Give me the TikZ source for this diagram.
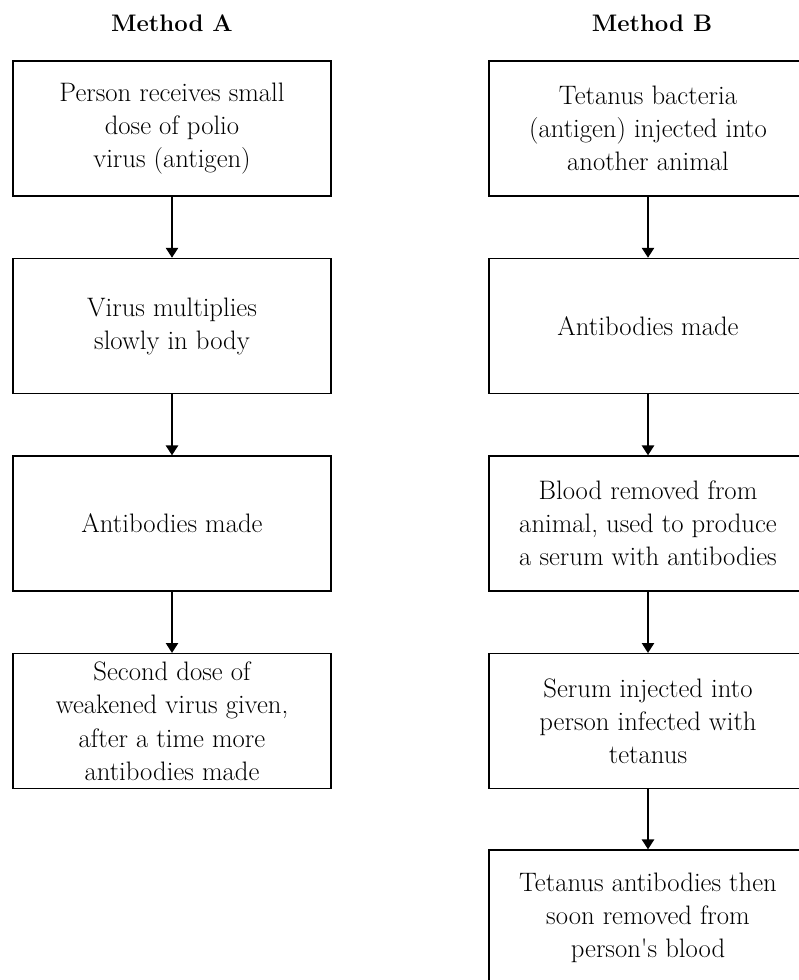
\documentclass[tikz,border=0pt]{standalone}
\usetikzlibrary{positioning,arrows.meta}

\begin{document}
\begin{tikzpicture}[
    stage/.style={draw, line width=1pt, minimum width=7.95cm, minimum height=3.375cm,
      inner sep=0pt, align=center, font=\fontsize{19}{23.5}\selectfont},
    heading/.style={font=\fontsize{17}{20}\selectfont\bfseries},
    flow/.style={-{Triangle[width=0.3cm,length=0.25cm]}, line width=2pt},
    node distance=1.53cm
  ]
  \useasboundingbox (0,0) rectangle (19.975,24.5);
  \clip (0,0) rectangle (19.975,24.5);

  % method A
  \node [heading] (headA) at (4.3,23.925) {Method A};
  \node [stage] (a1) at (4.3,21.29) {Person receives small\\dose of polio\\virus (antigen)};
  \node [stage, below=of a1] (a2) {Virus multiplies\\slowly in body};
  \node [stage, below=of a2] (a3) {Antibodies made};
  \node [stage, below=of a3] (a4) {Second dose of\\weakened virus given,\\after a time more\\antibodies made};

  % method B
  \node [heading] (headB) at (16.3,23.925) {Method B};
  \node [stage] (b1) at (16.2,21.29) {Tetanus bacteria\\(antigen) injected into\\another animal};
  \node [stage, below=of b1] (b2) {Antibodies made};
  \node [stage, below=of b2] (b3) {Blood removed from\\animal, used to produce\\a serum with antibodies};
  \node [stage, below=of b3] (b4) {Serum injected into\\person infected with\\tetanus};
  \node [stage, below=1.5cm of b4] (b5) {Tetanus antibodies then\\soon removed from\\person\textquotesingle s blood};

  \foreach \x/\y in {a1/a2, a2/a3, a3/a4, b1/b2, b2/b3, b3/b4, b4/b5}
    \draw [flow] (\x) -- (\y);
\end{tikzpicture}
\end{document}
